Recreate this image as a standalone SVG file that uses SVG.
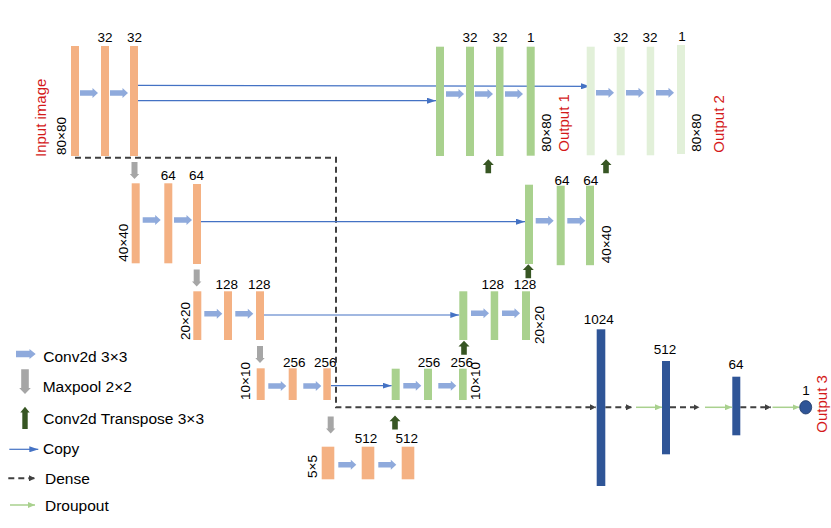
<svg xmlns="http://www.w3.org/2000/svg" xmlns:xlink="http://www.w3.org/1999/xlink" width="831" height="528" viewBox="0 0 831 528">
<style>
.enc{fill:#F4B183}
.dec{fill:#A9D18E}
.dec2{fill:#E2F0D9}
.dns{fill:#2F5597}
text{font-family:"Liberation Sans",Arial,sans-serif;fill:#000}
.lbl{font-size:13.5px;text-anchor:middle}
.dim{font-size:13.5px}
.out{font-size:15px;fill:#D41A1A}
.leg{font-size:15.5px}
.copy{stroke:#4472C4;stroke-width:1.2;fill:none;marker-end:url(#mCopy)}
.dn{stroke:#404040;stroke-width:2;stroke-dasharray:6 4;fill:none;marker-end:url(#mDense)}
.dr{stroke:#A9D18E;stroke-width:1.5;fill:none;marker-end:url(#mDrop)}
</style>
<defs>
<path id="conv" d="M0,-2.7 H12.5 V-5 L18,0 L12.5,5 V2.7 H0 Z" fill="#8FAADC"/>
<path id="pool" d="M-3,0 V12 H-4.7 L0,17 L4.7,12 H3 V0 Z" fill="#A6A6A6"/>
<path id="up" d="M-2.8,14 V5.7 H-5.5 L0,0 L5.5,5.7 H2.8 V14 Z" fill="#375623"/>
<marker id="mCopy" markerUnits="userSpaceOnUse" markerWidth="9" markerHeight="6" refX="9" refY="3" orient="auto"><path d="M0,0 L9,3 L0,6 Z" fill="#4472C4"/></marker>
<marker id="mDense" markerUnits="userSpaceOnUse" markerWidth="6" markerHeight="6" refX="6" refY="3" orient="auto"><path d="M0,0 L6,3 L0,6 Z" fill="#404040"/></marker>
<marker id="mDrop" markerUnits="userSpaceOnUse" markerWidth="7" markerHeight="6" refX="7" refY="3" orient="auto"><path d="M0,0 L7,3 L0,6 Z" fill="#A9D18E"/></marker>
</defs>
<rect width="831" height="528" fill="#fff"/>

<g id="connectors">
<path class="dn" d="M75,157.7 H336 V407.3 H596"/>
<path class="copy" d="M138,85.3 L590,86.3"/>
<path class="copy" d="M138,100.7 H436"/>
<path class="copy" d="M201,221.7 H525"/>
<path class="copy" d="M264,315 H459.3"/>
<path class="copy" d="M331,385.7 H391.7"/>
<path class="dn" d="M605.3,407.3 H632"/>
<path class="dr" d="M636,407.3 H662"/>
<path class="dn" d="M670,407.3 H699.5"/>
<path class="dr" d="M705,407.3 H732"/>
<path class="dn" d="M740.3,407.3 H771"/>
<path class="dr" d="M772.5,407.3 H799.5"/>
<use href="#conv" x="80" y="93"/>
<use href="#conv" x="110" y="93"/>
<use href="#conv" x="446" y="94"/>
<use href="#conv" x="475" y="94"/>
<use href="#conv" x="505" y="94"/>
<use href="#conv" x="596" y="92.7"/>
<use href="#conv" x="626" y="92.7"/>
<use href="#conv" x="656" y="92.7"/>
<use href="#conv" x="142.7" y="220"/>
<use href="#conv" x="174" y="220"/>
<use href="#conv" x="535.7" y="220.7"/>
<use href="#conv" x="567.3" y="220.7"/>
<use href="#conv" x="204.3" y="313.7"/>
<use href="#conv" x="235.3" y="313.7"/>
<use href="#conv" x="471" y="313.3"/>
<use href="#conv" x="502" y="313.3"/>
<use href="#conv" x="268.3" y="386"/>
<use href="#conv" x="303.3" y="386"/>
<use href="#conv" x="403.3" y="385.7"/>
<use href="#conv" x="438.3" y="385.7"/>
<use href="#conv" x="338.3" y="464.7"/>
<use href="#conv" x="378.3" y="464.7"/>
<use href="#pool" x="134.5" y="162"/>
<use href="#pool" x="196.7" y="269.5"/>
<use href="#pool" x="260" y="346"/>
<use href="#pool" x="330.7" y="416.5"/>
<use href="#up" x="488.3" y="159.3"/>
<use href="#up" x="606" y="159.3"/>
<use href="#up" x="528.3" y="264.3"/>
<use href="#up" x="464" y="340.7"/>
<use href="#up" x="395" y="415.5"/>
</g>

<g id="input">
<rect class="enc" x="71" y="46" width="8" height="110"/>
<text class="out" transform="translate(45.5,157) rotate(-90)">Input image</text>
<text class="dim" transform="translate(66.3,155) rotate(-90)">80×80</text>
</g>
<g id="enc1_2"><rect class="enc" x="101" y="46" width="8" height="110"/><text class="lbl" x="105" y="41.5">32</text></g>
<g id="enc1_3"><rect class="enc" x="130" y="46" width="8" height="110"/><text class="lbl" x="134.5" y="41.5">32</text></g>

<g id="enc2_1"><rect class="enc" x="131.7" y="183.3" width="8" height="80"/><text class="dim" transform="translate(128.3,261.7) rotate(-90)">40×40</text></g>
<g id="enc2_2"><rect class="enc" x="164.3" y="183.3" width="8" height="80"/><text class="lbl" x="168.3" y="180">64</text></g>
<g id="enc2_3"><rect class="enc" x="193" y="184" width="8" height="80"/><text class="lbl" x="196.5" y="180">64</text></g>

<g id="enc3_1"><rect class="enc" x="193.3" y="291.3" width="8" height="48.7"/><text class="dim" transform="translate(189.8,340) rotate(-90)">20×20</text></g>
<g id="enc3_2"><rect class="enc" x="224" y="291.3" width="8" height="48.7"/><text class="lbl" x="226.7" y="288.7">128</text></g>
<g id="enc3_3"><rect class="enc" x="256" y="291.3" width="8" height="48.7"/><text class="lbl" x="259.3" y="288.7">128</text></g>

<g id="enc4_1"><rect class="enc" x="256.7" y="368.3" width="8" height="31.7"/><text class="dim" transform="translate(249.8,400) rotate(-90)">10×10</text></g>
<g id="enc4_2"><rect class="enc" x="288.7" y="368.3" width="8" height="31.7"/><text class="lbl" x="294.3" y="366.5">256</text></g>
<g id="enc4_3"><rect class="enc" x="323.3" y="368.3" width="7.5" height="31.7"/><text class="lbl" x="325.3" y="366.5">256</text></g>

<g id="bot_1"><rect class="enc" x="321.7" y="446.7" width="12.6" height="32.6"/><text class="dim" transform="translate(317.3,478) rotate(-90)">5×5</text></g>
<g id="bot_2"><rect class="enc" x="361.7" y="446.7" width="12.6" height="32.6"/><text class="lbl" x="366" y="443.3">512</text></g>
<g id="bot_3"><rect class="enc" x="401.7" y="446.7" width="12.6" height="32.6"/><text class="lbl" x="406.7" y="443.3">512</text></g>

<g id="dec4_1"><rect class="dec" x="391.7" y="368.7" width="8" height="31.3"/></g>
<g id="dec4_2"><rect class="dec" x="424" y="368.7" width="8" height="31.3"/><text class="lbl" x="429" y="366.7">256</text></g>
<g id="dec4_3"><rect class="dec" x="459" y="368.7" width="7.7" height="31.3"/><text class="lbl" x="461.7" y="366.7">256</text><text class="dim" transform="translate(479.8,400) rotate(-90)">10×10</text></g>

<g id="dec3_1"><rect class="dec" x="459.3" y="291.3" width="8" height="48.7"/></g>
<g id="dec3_2"><rect class="dec" x="490.7" y="291.3" width="7.5" height="48.7"/><text class="lbl" x="492.7" y="288.7">128</text></g>
<g id="dec3_3"><rect class="dec" x="522" y="291.3" width="8" height="48.7"/><text class="lbl" x="525" y="288.7">128</text><text class="dim" transform="translate(543.8,344) rotate(-90)">20×20</text></g>

<g id="dec2_1"><rect class="dec" x="525" y="184.7" width="8" height="79.3"/></g>
<g id="dec2_2"><rect class="dec" x="556.7" y="185.7" width="8" height="79.5"/><text class="lbl" x="562" y="185">64</text></g>
<g id="dec2_3"><rect class="dec" x="586" y="185.7" width="8" height="79.5"/><text class="lbl" x="590.7" y="185">64</text><text class="dim" transform="translate(611.3,263.3) rotate(-90)">40×40</text></g>

<g id="dec1_1"><rect class="dec" x="436" y="46.7" width="8" height="109.3"/></g>
<g id="dec1_2"><rect class="dec" x="466" y="46.7" width="8" height="109.3"/><text class="lbl" x="470" y="41.7">32</text></g>
<g id="dec1_3"><rect class="dec" x="496" y="46.7" width="7.5" height="109.3"/><text class="lbl" x="500" y="41.7">32</text></g>
<g id="output1"><rect class="dec" x="526.7" y="46.7" width="8" height="109"/><text class="lbl" x="530.7" y="41.7">1</text><text class="dim" transform="translate(551.3,151.7) rotate(-90)">80×80</text><text class="out" transform="translate(569.3,151.7) rotate(-90)">Output 1</text></g>

<g id="out2_1"><rect class="dec2" x="586.7" y="46.7" width="8" height="108.6"/></g>
<g id="out2_2"><rect class="dec2" x="616.7" y="46.7" width="8" height="108.6"/><text class="lbl" x="620.7" y="41.5">32</text></g>
<g id="out2_3"><rect class="dec2" x="646.7" y="46.7" width="7.5" height="108.6"/><text class="lbl" x="650" y="41.5">32</text></g>
<g id="output2"><rect class="dec2" x="677" y="45" width="8" height="109"/><text class="lbl" x="682" y="40.7">1</text><text class="dim" transform="translate(701.3,151.7) rotate(-90)">80×80</text><text class="out" transform="translate(723.6,152.7) rotate(-90)">Output 2</text></g>

<g id="dense1024"><rect class="dns" x="596.7" y="329.3" width="8.6" height="156.7"/><text class="lbl" x="598.8" y="324">1024</text></g>
<g id="dense512"><rect class="dns" x="662" y="361" width="8" height="93.3"/><text class="lbl" x="665" y="354">512</text></g>
<g id="dense64"><rect class="dns" x="732.3" y="376.7" width="8" height="58.6"/><text class="lbl" x="736" y="369.3">64</text></g>
<g id="output3"><ellipse cx="805.7" cy="407.3" rx="6" ry="6.7" fill="#2F5597" stroke="#1F3864" stroke-width="0.8"/><text class="lbl" x="806" y="395">1</text><text class="out" transform="translate(827,432.7) rotate(-90)">Output 3</text></g>

<g id="legend">
<path d="M16,350.7 H29.5 V349 L35.7,354 L29.5,359 V357.3 H16 Z" fill="#8FAADC"/>
<text class="leg" x="43.3" y="361.7">Conv2d 3×3</text>
<path d="M21.2,369.3 V388 H19.2 L25,394 L30.8,388 H28.8 V369.3 Z" fill="#A6A6A6"/>
<text class="leg" x="42.7" y="392.3">Maxpool 2×2</text>
<path d="M22.3,429 V412.5 H20.3 L25,406.7 L29.7,412.5 H27.7 V429 Z" fill="#375623"/>
<text class="leg" x="43.3" y="424">Conv2d Transpose 3×3</text>
<path class="copy" d="M9.3,449.3 H38.3"/>
<text class="leg" x="43" y="454">Copy</text>
<path class="dn" d="M8.3,478.3 H35"/>
<text class="leg" x="45" y="484">Dense</text>
<path class="dr" d="M10,505 H35"/>
<text class="leg" x="45" y="510.7">Droupout</text>
</g>
</svg>
